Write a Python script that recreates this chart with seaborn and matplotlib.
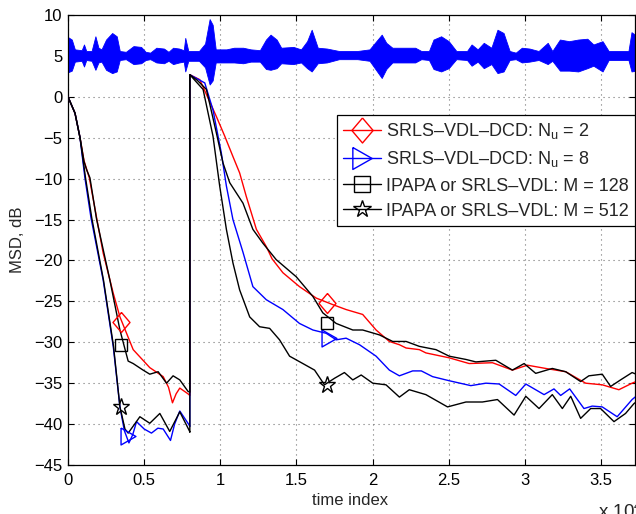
import numpy as np
import pandas as pd
import matplotlib
matplotlib.use("Agg")
import matplotlib.pyplot as plt
from matplotlib.lines import Line2D
import seaborn as sns

# ---------------- data ----------------
red_x = [0, 460, 790, 1050, 1400, 1880, 2310, 2970, 3410, 4280, 5370, 6250, 6600, 6860, 7100, 7340, 7880, 8000,
         8000, 8650, 9740, 10290, 10830, 11270, 11710, 12370, 13020, 13400, 14110, 15200, 16300, 17390, 18260,
         19350, 20230, 21100, 21760, 22200, 23070, 23500, 25030, 26340, 27870, 29180, 30160, 31370, 32680,
         33990, 35080, 36170, 37040, 37300]
red_y = [0, -2.0, -5.0, -7.8, -9.9, -14.8, -19.1, -24.0, -26.9, -30.9, -33.1, -34.2, -35.5, -37.4, -36.3, -35.6, -36.3, -36.5,
         2.7, 2.1, -2.4, -4.8, -7.3, -9.3, -12.2, -16.2, -18.3, -19.8, -21.5, -23.2, -24.6, -25.4, -26.0,
         -26.6, -28.5, -29.9, -30.3, -30.7, -30.9, -31.3, -31.9, -32.6, -32.5, -33.4, -32.8, -33.2, -33.6,
         -35.0, -35.2, -35.8, -35.0, -34.8]

blue_x = [0, 460, 790, 1110, 1510, 2310, 2970, 3410, 3700, 4000, 4250, 4500, 5000, 5480, 5900, 6250, 6730, 7000, 7340, 7950, 8000,
          8000, 8980, 9520, 10070, 10400, 10830, 11490, 12140, 13020, 14110, 15200, 16080, 16950, 17610, 18260,
          19140, 20230, 21100, 21760, 22630, 23200, 23940, 25030, 26450, 27440, 28310, 29400, 30060, 31260,
          31910, 32350, 32940, 33880, 34420, 35080, 36060, 37040, 37300]
blue_y = [0, -2.0, -5.0, -9.9, -14.8, -22.4, -30.5, -37.9, -40.8, -42.3, -41.3, -39.7, -40.6, -41.1, -40.5, -40.6, -42.0, -40.0, -38.4, -40.1, -40.3,
          2.7, 1.7, -1.6, -6.9, -10.9, -15.0, -19.0, -23.2, -24.8, -26.0, -27.7, -28.5, -28.9, -29.7, -29.5,
          -30.3, -31.7, -33.4, -34.1, -33.5, -33.5, -34.2, -34.7, -35.3, -35.0, -35.1, -36.5, -35.1, -36.4,
          -35.7, -36.5, -35.7, -38.1, -37.8, -37.9, -39.1, -37.0, -36.6]

blk128_x = [0, 460, 790, 1050, 1220, 1440, 1880, 2750, 3410, 3950, 4280, 4930, 5370, 5920, 6470, 6900, 7340, 7880, 8000,
            8000, 8500, 9090, 9740, 10180, 10620, 11490, 12140, 12800, 13670, 14990, 16080, 16730, 17610, 18700,
            19350, 20450, 21320, 22200, 23070, 24160, 25030, 26130, 26780, 28090, 29180, 29950, 30710, 31800,
            32680, 33660, 34200, 35080, 35630, 36280, 37040, 37300]
blk128_y = [0, -2.0, -5.0, -7.9, -8.9, -9.9, -15.0, -22.4, -28.5, -32.3, -32.6, -33.4, -33.9, -33.6, -35.0, -34.1, -34.6, -36.0, -36.1,
            2.7, 2.0, 0.9, -4.4, -8.1, -10.5, -13.0, -16.2, -17.9, -19.9, -22.0, -24.4, -26.4, -27.7, -28.5,
            -28.5, -29.1, -29.9, -29.9, -30.5, -30.9, -31.7, -32.1, -32.4, -32.2, -33.4, -32.6, -33.8, -33.2,
            -33.6, -34.8, -34.1, -33.9, -35.4, -34.6, -33.7, -33.9]

blk512_x = [0, 460, 790, 1150, 1560, 2330, 2990, 3410, 3740, 3950, 4300, 4720, 5370, 6030, 6680, 7340, 7990, 8000,
            8000, 8870, 9520, 9960, 10400, 10830, 11270, 11930, 12580, 13240, 13890, 14550, 15420, 16190, 16840,
            17500, 18150, 18700, 19250, 20010, 20880, 21760, 22410, 23500, 24920, 26130, 27210, 28200, 29290,
            30060, 30930, 31800, 32460, 33010, 33660, 34320, 34970, 35850, 36610, 37160, 37300]
blk512_y = [0, -2.0, -5.0, -9.9, -14.8, -22.4, -30.5, -37.9, -40.6, -41.1, -40.2, -39.1, -39.9, -38.7, -40.9, -38.5, -40.9, -41.0,
            2.7, 0.9, -4.8, -10.9, -16.2, -20.3, -23.6, -26.9, -28.1, -28.3, -29.7, -31.7, -32.6, -33.4, -35.2,
            -34.4, -33.7, -34.6, -34.0, -35.0, -35.2, -36.7, -35.8, -36.4, -37.9, -37.3, -37.3, -37.0, -38.9,
            -36.6, -38.1, -36.4, -38.1, -36.6, -39.3, -38.1, -38.1, -39.7, -38.7, -37.5, -37.3]

# marker positions on each curve
red_mx, red_my = [3500, 17000], [-27.5, -25.2]
blue_mx, blue_my = [3950, 17150], [-41.5, -29.5]
blk128_mx, blk128_my = [3500, 17000], [-30.3, -27.6]
blk512_mx, blk512_my = [3500, 17000], [-37.9, -35.2]

# speech signal envelope (upper / lower extent), offset around 5 dB
speech_x = [0, 250, 450, 900, 1050, 1200, 1550, 1800, 2000, 2200, 2500, 2900, 3200, 3400, 3800, 4300, 4800,
            5100, 5400, 5800, 6300, 6600, 6900, 7300, 7600, 7700, 7900, 8600, 9000, 9300, 9500, 9700, 10400,
            10900, 11500, 12000, 12600, 13000, 13300, 13700, 14000, 14800, 15300, 15700, 16000, 16400, 17000,
            17800, 19000, 19800, 20600, 20900, 21300, 22800, 23200, 23700, 24000, 24500, 25000, 25500, 26200,
            26500, 26900, 27300, 27800, 28200, 28600, 29000, 29400, 29800, 30300, 30900, 31500, 31800, 32300,
            32900, 33500, 34100, 34500, 35100, 35500, 36800, 37000, 37300]
speech_hi = [7.3, 7.0, 5.8, 5.7, 6.4, 5.6, 5.6, 7.4, 6.0, 5.8, 7.0, 7.8, 7.4, 5.6, 5.5, 6.2, 6.1,
             5.5, 5.4, 6.0, 5.9, 5.5, 6.0, 5.9, 5.7, 7.2, 5.6, 5.6, 6.5, 9.5, 8.8, 5.8, 5.8,
             6.0, 6.0, 5.8, 5.7, 7.0, 7.6, 7.0, 6.0, 6.1, 5.8, 6.8, 8.2, 6.0, 5.9,
             5.6, 5.6, 5.8, 7.6, 6.6, 6.0, 6.0, 5.6, 5.6, 7.0, 7.4, 6.8, 5.6, 5.6,
             6.4, 5.8, 6.6, 6.0, 8.2, 7.8, 5.6, 5.4, 6.0, 5.9, 5.6, 6.6, 5.6, 7.0,
             6.8, 7.0, 7.1, 6.4, 6.8, 5.6, 5.6, 7.9, 7.5]
speech_lo = [3.0, 3.2, 4.3, 4.4, 3.7, 4.5, 4.4, 3.3, 4.2, 4.3, 3.3, 2.9, 3.1, 4.5, 4.6, 4.0, 4.1,
             4.5, 4.6, 4.2, 4.1, 4.4, 4.0, 4.2, 4.3, 3.1, 4.4, 4.4, 3.6, 1.5, 2.0, 4.2, 4.2,
             4.2, 4.1, 4.3, 4.3, 3.4, 3.3, 3.5, 4.1, 4.0, 4.2, 3.5, 3.1, 4.1, 4.2,
             4.6, 4.6, 4.4, 2.3, 3.4, 4.2, 4.2, 4.6, 4.5, 3.4, 3.1, 3.5, 4.6, 4.5,
             3.8, 4.3, 3.5, 4.0, 2.9, 3.1, 4.5, 4.6, 4.2, 4.3, 4.5, 4.0, 4.4, 3.2,
             3.2, 3.1, 3.5, 3.8, 3.1, 4.5, 4.5, 3.1, 3.2]

x_ticks = [0, 5000, 10000, 15000, 20000, 25000, 30000, 35000]
x_tick_labels = ["0", "0.5", "1", "1.5", "2", "2.5", "3", "3.5"]
y_ticks = list(range(-45, 11, 5))

labels = ["SRLS\u2013VDL\u2013DCD: N$_\\mathrm{u}$ = 2",
          "SRLS\u2013VDL\u2013DCD: N$_\\mathrm{u}$ = 8",
          "IPAPA or SRLS\u2013VDL: M = 128",
          "IPAPA or SRLS\u2013VDL: M = 512"]

# ---------------- style ----------------
sns.set_style("ticks")
plt.rcParams["font.family"] = ["Liberation Sans", "DejaVu Sans"]
plt.rcParams["mathtext.fontset"] = "custom"
plt.rcParams["mathtext.rm"] = "Liberation Sans"
plt.rcParams["mathtext.it"] = "Liberation Sans:italic"
plt.rcParams["font.size"] = 12

fig = plt.figure(figsize=(6.36, 5.14), dpi=100)
ax = fig.add_axes([68 / 636, 49 / 514, 567 / 636, 450 / 514])

diamond = [(0, 1), (0.85, 0), (0, -1), (-0.85, 0), (0, 1)]
tri_right = [(-0.88, 1), (0.88, 0), (-0.88, -1), (-0.88, 1)]

# speech signal band
ax.fill_between(speech_x, speech_lo, speech_hi, color="#0000ff", lw=0.6, zorder=2)

series = [
    (red_x, red_y, red_mx, red_my, "#ff0000", diamond, 14.4, 18.0),
    (blue_x, blue_y, blue_mx, blue_my, "#0000ff", tri_right, 12.2, 15.8),
    (blk128_x, blk128_y, blk128_mx, blk128_my, "#000000", "s", 9.3, 11.5),
    (blk512_x, blk512_y, blk512_mx, blk512_my, "#000000", "*", 12.5, 13.0),
]

handles = []
for (xs, ys, mx, my, col, mk, ms, lms), lab in zip(series, labels):
    df = pd.DataFrame({"x": xs, "y": ys})
    sns.lineplot(data=df, x="x", y="y", sort=False, estimator=None, color=col,
                 lw=1.0, ax=ax, zorder=3)
    ax.plot(mx, my, ls="none", marker=mk, ms=ms, mfc="none", mec=col, mew=1.0, zorder=4)
    handles.append(Line2D([], [], color=col, lw=1.0, marker=mk, ms=lms,
                          mfc="none", mec=col, mew=1.0))

ax.set_xlim(0, 37230)
ax.set_ylim(-45, 10)
ax.set_xticks(x_ticks)
ax.set_xticklabels(x_tick_labels)
ax.set_yticks(y_ticks)
ax.tick_params(direction="in", length=4, width=0.8, top=True, right=True,
               labelsize=12, colors="black")
ax.tick_params(axis="x", pad=6)
ax.tick_params(axis="y", pad=4)
for s in ax.spines.values():
    s.set_linewidth(0.9)
    s.set_color("black")
ax.grid(True, color="0.45", linestyle=(0, (1, 3.5)), lw=0.8)

ax.set_xlabel("time index", fontsize=12)
ax.set_ylabel("MSD, dB", fontsize=12)
ax.xaxis.set_label_coords((350 - 68) / 567, -28 / 450)
ax.yaxis.set_label_coords(-43 / 567, 0.5)

leg = ax.legend(handles, labels, loc="upper right", bbox_to_anchor=(1.0, (465 - 115) / 450),
                borderaxespad=0, frameon=True, fancybox=False, framealpha=1,
                edgecolor="black", fontsize=13, handlelength=2.1, handletextpad=0.28,
                labelspacing=0.45, borderpad=0.35)
leg.get_frame().set_linewidth(0.9)

fig.text(598 / 636, -4 / 514, "x 10$^\\mathrm{4}$", fontsize=13.5, ha="left", va="baseline")

fig.savefig("out.png", dpi=100)
